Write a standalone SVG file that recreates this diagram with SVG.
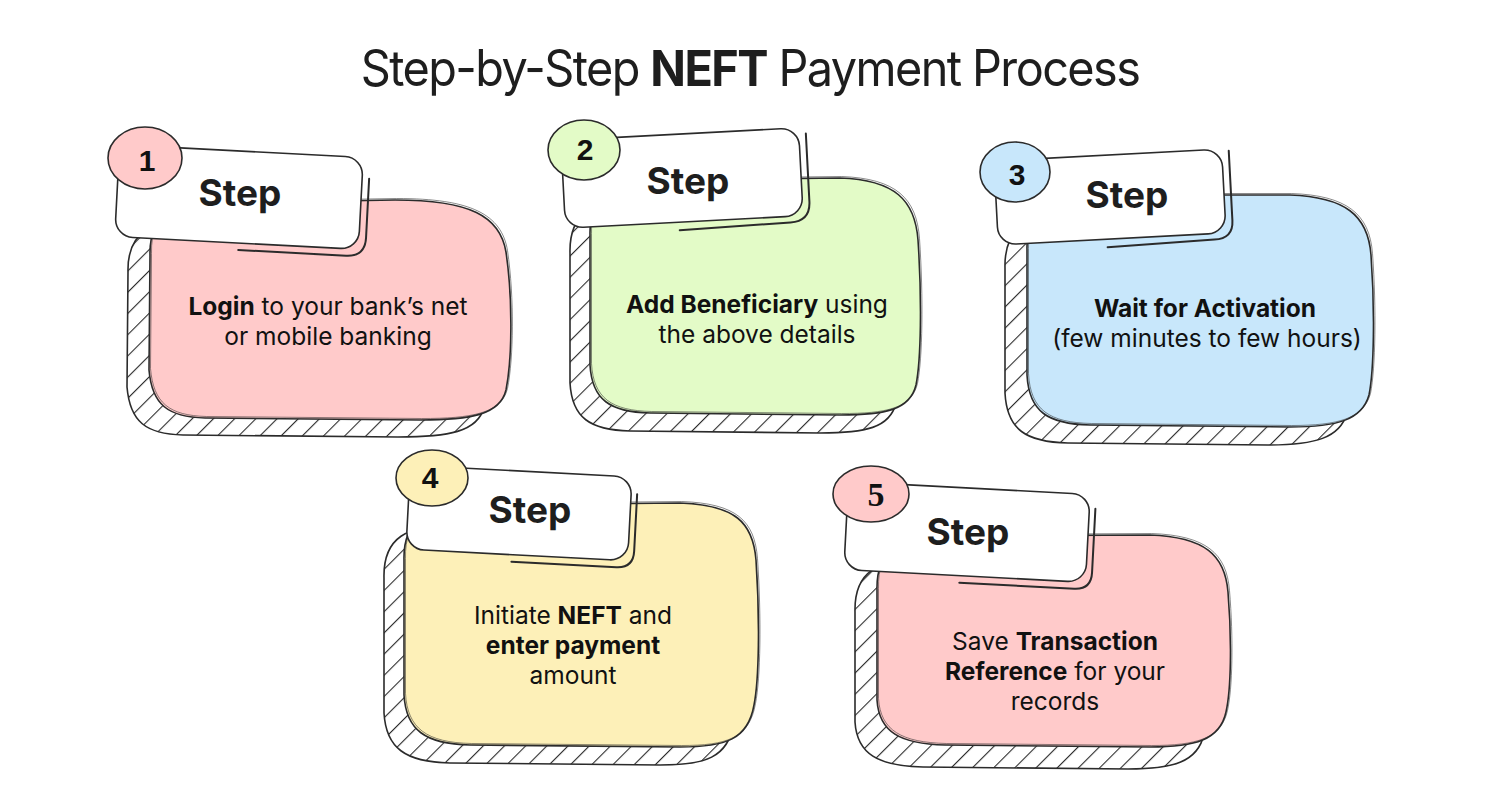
<svg xmlns="http://www.w3.org/2000/svg" width="1500" height="800" viewBox="0 0 1500 800">
  <defs>
    <pattern id="hatch" patternUnits="userSpaceOnUse" width="15" height="15" patternTransform="rotate(45)">
      <rect width="15" height="15" fill="#ffffff"/>
      <line x1="0" y1="0" x2="0" y2="15" stroke="#2b2b2b" stroke-width="2.2"/>
    </pattern>
  </defs>
  <style>
    .title { font-family: Inter, "Liberation Sans", sans-serif; font-size: 50px; font-weight: 400; fill: #1e1e1e; letter-spacing: -1.7px; text-anchor: middle; }
    .tb { font-weight: 700; }
    .shadow { fill: url(#hatch); stroke: #2b2b2b; stroke-width: 1.6; }
    .blob { stroke: #2b2b2b; stroke-width: 1.6; }
    .sketch { fill: none; stroke: #2b2b2b; stroke-width: 1; opacity: 0.55; }
    .label { fill: #ffffff; stroke: #2b2b2b; stroke-width: 1.6; }
    .offline { fill: none; stroke: #2b2b2b; stroke-width: 2; stroke-linecap: round; }
    .badge { stroke: #2b2b2b; stroke-width: 1.6; }
    .num { font-family: "Liberation Sans", sans-serif; font-size: 30px; font-weight: 700; fill: #111; text-anchor: middle; dominant-baseline: central; }
    .numserif { font-family: "Liberation Serif", serif; font-size: 34px; font-weight: 700; fill: #111; text-anchor: middle; dominant-baseline: central; }
    .step { font-family: Inter, "Liberation Sans", sans-serif; font-size: 37px; font-weight: 700; fill: #1e1e1e; text-anchor: middle; }
    .body { font-family: Inter, "Liberation Sans", sans-serif; font-size: 24.5px; font-weight: 400; fill: #111; text-anchor: middle; }
    .b { font-weight: 700; }
    .pink { fill: #ffcaca; }
    .green { fill: #e3fbc7; }
    .blue { fill: #c8e7fb; }
    .yellow { fill: #fdf0b8; }
  </style>

  <g id="title" transform="translate(750,86) scale(0.937,1)">
    <text class="title" x="0" y="0">Step-by-Step <tspan class="tb">NEFT</tspan> Payment Process</text>
  </g>

  <!-- Step 1 -->
  <g id="step1">
    <path class="shadow" transform="translate(-22,17)" d="M 150,255 C 149,212 175,204 225,203 L 395,200 C 470,200 500,216 506,252 C 513,300 512,360 506,390 C 500,415 470,420 420,420 L 205,418 C 168,417 152,405 149,370 Z"/>
    <path class="blob pink" d="M 150,255 C 149,212 175,204 225,203 L 395,200 C 470,200 500,216 506,252 C 513,300 512,360 506,390 C 500,415 470,420 420,420 L 205,418 C 168,417 152,405 149,370 Z"/>
    <path class="sketch" transform="translate(1.5,-1.5)" d="M 150,255 C 149,212 175,204 225,203 L 395,200 C 470,200 500,216 506,252 C 513,300 512,360 506,390 C 500,415 470,420 420,420 L 205,418 C 168,417 152,405 149,370 Z"/>
    <g transform="translate(239,197) rotate(3)">
      <rect class="label" x="-122" y="-46" width="244" height="92" rx="18"/>
      <path class="offline" d="M 129,-25 L 129,34 Q 129,53 110,53 L 2,53"/>
    </g>
    <ellipse class="badge pink" cx="145" cy="158" rx="37" ry="31"/>
    <text class="num" x="147" y="160">1</text>
    <text class="step" x="240" y="206">Step</text>
    <text class="body" x="328" y="315"><tspan class="b">Login</tspan> to your bank’s net</text>
    <text class="body" x="328" y="345">or mobile banking</text>
  </g>

  <!-- Step 2 -->
  <g id="step2">
    <path class="shadow" transform="translate(-20,18)" d="M 590,235 C 589,195 612,182 660,180 L 840,178 C 895,180 915,200 918,240 C 922,300 921,360 916,385 C 910,410 885,415 840,415 L 650,413 C 610,412 592,400 590,365 Z"/>
    <path class="blob green" d="M 590,235 C 589,195 612,182 660,180 L 840,178 C 895,180 915,200 918,240 C 922,300 921,360 916,385 C 910,410 885,415 840,415 L 650,413 C 610,412 592,400 590,365 Z"/>
    <path class="sketch" transform="translate(1.5,-1.5)" d="M 590,235 C 589,195 612,182 660,180 L 840,178 C 895,180 915,200 918,240 C 922,300 921,360 916,385 C 910,410 885,415 840,415 L 650,413 C 610,412 592,400 590,365 Z"/>
    <g transform="translate(682,178) rotate(-3)">
      <rect class="label" x="-119" y="-44" width="238" height="88" rx="18"/>
      <path class="offline" d="M 126,-38 L 126,30 Q 126,50 106,50 L -5,52"/>
    </g>
    <ellipse class="badge green" cx="584" cy="150" rx="36" ry="30"/>
    <text class="num" x="585" y="149">2</text>
    <text class="step" x="688" y="194">Step</text>
    <text class="body" x="757" y="313"><tspan class="b">Add Beneficiary</tspan> using</text>
    <text class="body" x="757" y="343">the above details</text>
  </g>

  <!-- Step 3 -->
  <g id="step3">
    <path class="shadow" transform="translate(-22,18)" d="M 1027,250 C 1026,210 1048,196 1100,195 L 1290,195 C 1345,197 1368,215 1371,255 C 1375,310 1374,370 1369,395 C 1362,420 1337,427 1290,427 L 1090,425 C 1048,424 1029,412 1027,375 Z"/>
    <path class="blob blue" d="M 1027,250 C 1026,210 1048,196 1100,195 L 1290,195 C 1345,197 1368,215 1371,255 C 1375,310 1374,370 1369,395 C 1362,420 1337,427 1290,427 L 1090,425 C 1048,424 1029,412 1027,375 Z"/>
    <path class="sketch" transform="translate(1.5,-1.5)" d="M 1027,250 C 1026,210 1048,196 1100,195 L 1290,195 C 1345,197 1368,215 1371,255 C 1375,310 1374,370 1369,395 C 1362,420 1337,427 1290,427 L 1090,425 C 1048,424 1029,412 1027,375 Z"/>
    <g transform="translate(1110,197) rotate(-3)">
      <rect class="label" x="-114" y="-42" width="228" height="84" rx="18"/>
      <path class="offline" d="M 121,-40 L 121,30 Q 121,48 102,48 L -5,50"/>
    </g>
    <ellipse class="badge blue" cx="1015" cy="172" rx="35" ry="30"/>
    <text class="num" x="1017" y="174">3</text>
    <text class="step" x="1127" y="208">Step</text>
    <text class="body" x="1205" y="317"><tspan class="b">Wait for Activation</tspan></text>
    <text class="body" x="1207" y="347">(few minutes to few hours)</text>
  </g>

  <!-- Step 4 -->
  <g id="step4">
    <path class="shadow" transform="translate(-20,18)" d="M 404,560 C 403,520 425,507 480,505 L 680,503 C 735,505 753,522 756,560 C 760,620 759,680 754,705 C 748,740 725,747 680,747 L 470,745 C 425,744 406,730 404,695 Z"/>
    <path class="blob yellow" d="M 404,560 C 403,520 425,507 480,505 L 680,503 C 735,505 753,522 756,560 C 760,620 759,680 754,705 C 748,740 725,747 680,747 L 470,745 C 425,744 406,730 404,695 Z"/>
    <path class="sketch" transform="translate(1.5,-1.5)" d="M 404,560 C 403,520 425,507 480,505 L 680,503 C 735,505 753,522 756,560 C 760,620 759,680 754,705 C 748,740 725,747 680,747 L 470,745 C 425,744 406,730 404,695 Z"/>
    <g transform="translate(519,513) rotate(3)">
      <rect class="label" x="-111" y="-42" width="222" height="84" rx="18"/>
      <path class="offline" d="M 117,-25 L 117,32 Q 117,49 100,49 L -5,49"/>
    </g>
    <ellipse class="badge yellow" cx="432" cy="478" rx="36" ry="28"/>
    <text class="num" x="430" y="477">4</text>
    <text class="step" x="530" y="523">Step</text>
    <text class="body" x="573" y="624">Initiate <tspan class="b">NEFT</tspan> and</text>
    <text class="body b" x="573" y="654">enter payment</text>
    <text class="body" x="573" y="684">amount</text>
  </g>

  <!-- Step 5 -->
  <g id="step5">
    <path class="shadow" transform="translate(-22,22)" d="M 877,590 C 876,550 898,537 950,536 L 1150,535 C 1205,537 1225,555 1228,592 C 1232,640 1231,690 1226,712 C 1220,740 1195,747 1150,747 L 945,745 C 900,744 879,732 877,700 Z"/>
    <path class="blob pink" d="M 877,590 C 876,550 898,537 950,536 L 1150,535 C 1205,537 1225,555 1228,592 C 1232,640 1231,690 1226,712 C 1220,740 1195,747 1150,747 L 945,745 C 900,744 879,732 877,700 Z"/>
    <path class="sketch" transform="translate(1.5,-1.5)" d="M 877,590 C 876,550 898,537 950,536 L 1150,535 C 1205,537 1225,555 1228,592 C 1232,640 1231,690 1226,712 C 1220,740 1195,747 1150,747 L 945,745 C 900,744 879,732 877,700 Z"/>
    <g transform="translate(967,532) rotate(3)">
      <rect class="label" x="-121" y="-44" width="242" height="88" rx="18"/>
      <path class="offline" d="M 127,-30 L 127,34 Q 127,51 110,51 L -5,51"/>
    </g>
    <ellipse class="badge pink" cx="871" cy="494" rx="38" ry="28"/>
    <text class="numserif" x="876" y="494">5</text>
    <text class="step" x="968" y="545">Step</text>
    <text class="body" x="1055" y="650">Save <tspan class="b">Transaction</tspan></text>
    <text class="body" x="1055" y="680"><tspan class="b">Reference</tspan> for your</text>
    <text class="body" x="1055" y="710">records</text>
  </g>
</svg>
